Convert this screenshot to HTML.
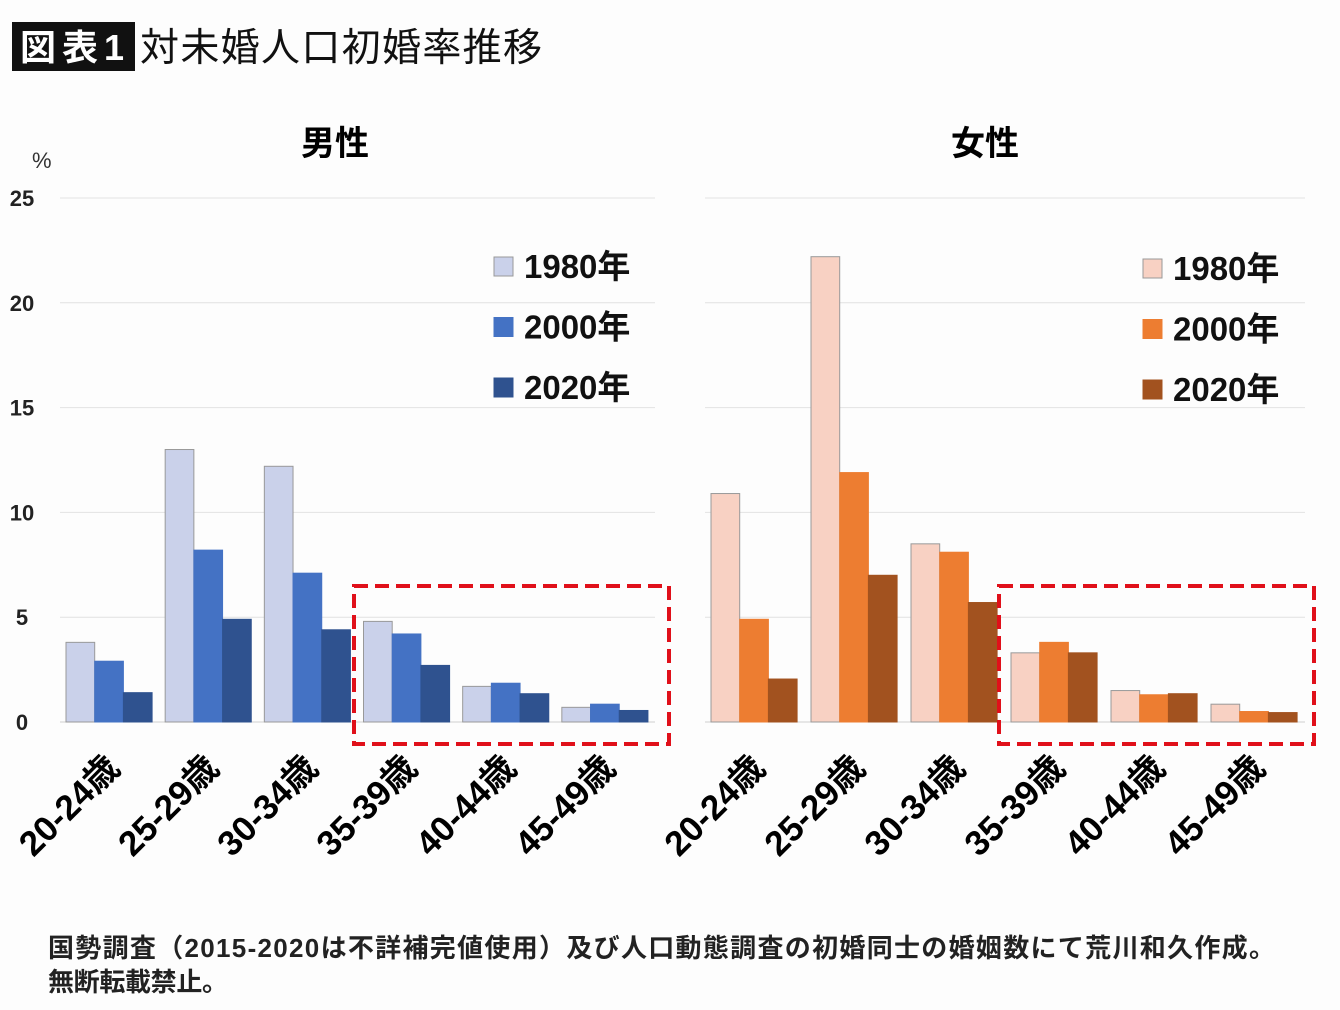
<!DOCTYPE html>
<html><head><meta charset="utf-8">
<style>
body{margin:0;background:#fdfdfd;width:1340px;height:1005px;overflow:hidden;font-family:"Liberation Sans","Noto Sans CJK JP",sans-serif;}
svg text{font-family:"Liberation Sans","Noto Sans CJK JP",sans-serif;}
</style></head><body>
<svg width="1340" height="1005" id="chart">
<rect x="12" y="22" width="123" height="49" fill="#111"/>
<text x="20" y="60" font-size="36" font-weight="bold" fill="#fff" textLength="104">図表1</text>
<text x="140" y="61" font-size="39" fill="#111" textLength="402">対未婚人口初婚率推移</text>
<text x="32" y="168" font-size="22" fill="#333">%</text>
<text x="335" y="155" font-size="34" font-weight="bold" text-anchor="middle">男性</text>
<text x="985" y="155" font-size="34" font-weight="bold" text-anchor="middle">女性</text>
<g id="plots"></g>
<text x="48" y="957" font-size="26" font-weight="bold" fill="#222" textLength="1227">国勢調査（2015-2020は不詳補完値使用）及び人口動態調査の初婚同士の婚姻数にて荒川和久作成。</text>
<text x="48" y="991" font-size="26" font-weight="bold" fill="#222" textLength="180">無断転載禁止。</text>
</svg>
<script>
const categories=["20-24歳","25-29歳","30-34歳","35-39歳","40-44歳","45-49歳"];
const years=["1980年","2000年","2020年"];
const male1980=[3.8,13.0,12.2,4.8,1.7,0.7];
const male2000=[2.9,8.2,7.1,4.2,1.85,0.85];
const male2020=[1.4,4.9,4.4,2.7,1.35,0.55];
const female1980=[10.9,22.2,8.5,3.3,1.5,0.85];
const female2000=[4.9,11.9,8.1,3.8,1.3,0.5];
const female2020=[2.05,7.0,5.7,3.3,1.35,0.45];
const yTicks=[0,5,10,15,20,25];
const NS="http://www.w3.org/2000/svg";
const g=document.getElementById('plots');
function mk(t,a,p){const e=document.createElementNS(NS,t);for(const k in a)e.setAttribute(k,a[k]);(p||g).appendChild(e);return e;}
function y(v){return 722-v*20.96;}
function panel(name,x0,x1,series,colors,strokes,legX,legY,showLabels){
  const cw=(x1-x0)/6;
  yTicks.forEach(t=>{
    const l=mk('line',{x1:x0,x2:x1,y1:y(t),y2:y(t),stroke:t==0?'#d0d0d0':'#e2e2e2','stroke-width':1});
    
    
    if(showLabels){const tx=mk('text',{x:22,y:y(t)+8,'font-size':22,'font-weight':'bold','text-anchor':'middle',fill:'#222'});tx.textContent=t;
    
    }
  });
  categories.forEach((c,i)=>{
    series.forEach((s,j)=>{
      const bx=x0+6+i*cw+j*28.7;
      const r=mk('rect',{x:bx,y:y(s[i]),width:28.7,height:s[i]*20.96,fill:colors[j],stroke:strokes[j],'stroke-width':1});
      
      
    });
    const cx=x0+i*cw+cw/2+12;
    const t=mk('text',{x:cx,y:770,'font-size':35,'font-weight':'bold','text-anchor':'end',transform:`rotate(-45 ${cx} 770)`});
    t.textContent=c;
    
    
  });
  years.forEach((yr,j)=>{
    const r=mk('rect',{x:legX,y:legY+j*60.5,width:19,height:19,fill:colors[j],stroke:strokes[j]});
    
    
    const t=mk('text',{x:legX+30,y:legY+j*60.5+21,'font-size':33,'font-weight':'bold',fill:'#111'});
    t.textContent=yr;
    
    
  });
  const b=mk('rect',{x:x0+294,y:586,width:315,height:158,fill:'none',stroke:'#e0101a','stroke-width':4,'stroke-dasharray':'14 7'});
  
  
}
panel('male',60,655,[male1980,male2000,male2020],['#cad1ea','#4472c4','#2f528f'],['#999','#4472c4','#2f528f'],494,257,true);
panel('female',705,1305,[female1980,female2000,female2020],['#f8d1c3','#ed7d31','#a2521f'],['#999','#ed7d31','#a2521f'],1143,259,false);
</script>
</body></html>
